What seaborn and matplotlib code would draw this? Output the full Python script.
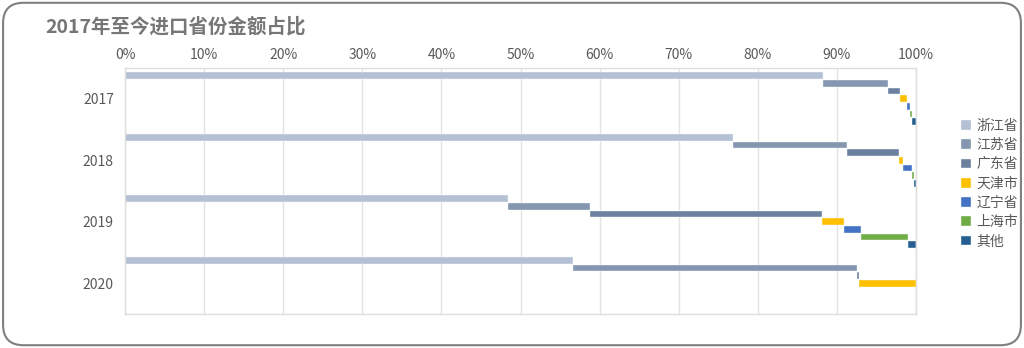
import matplotlib
matplotlib.use("Agg")
import matplotlib.pyplot as plt
import seaborn as sns
import pandas as pd
import numpy as np
from matplotlib.patches import FancyBboxPatch
from matplotlib.ticker import PercentFormatter

years = ["2017", "2018", "2019", "2020"]
provinces = ["浙江省", "江苏省", "广东省", "天津市", "辽宁省", "上海市", "其他"]
zhejiang = [88.2, 76.9, 48.4, 56.6]
jiangsu = [8.2, 14.4, 10.4, 35.9]
guangdong = [1.6, 6.6, 29.3, 0.3]
tianjin = [0.8, 0.4, 2.8, 7.2]
liaoning = [0.4, 1.2, 2.2, 0.0]
shanghai = [0.3, 0.3, 5.9, 0.0]
others = [0.5, 0.2, 1.0, 0.0]
colors = ["#b4c0d3", "#8496b0", "#6c809f", "#ffc000", "#4472c4", "#70ad47", "#255e91"]

series = [zhejiang, jiangsu, guangdong, tianjin, liaoning, shanghai, others]
rows = []
for yi, y in enumerate(years):
    start = 0.0
    for p, vals in zip(provinces, series):
        rows.append({"year": y, "province": p, "value": vals[yi], "start": start})
        start += vals[yi]
df = pd.DataFrame(rows)

sns.set_theme(style="white")
plt.rcParams["font.family"] = ["Noto Sans CJK SC", "DejaVu Sans"]

fig = plt.figure(figsize=(10.24, 3.48), dpi=100)
fig.patch.set_facecolor("white")
border = FancyBboxPatch((0.003, 0.008), 0.994, 0.984, boxstyle="round,pad=0,rounding_size=0.02",
                        transform=fig.transFigure, facecolor="none", edgecolor="#7f7f7f",
                        linewidth=1.5, mutation_aspect=1024/348, zorder=5)
fig.patches.append(border)

ax = fig.add_axes([125/1024, 1 - 314/348, (916 - 125)/1024, (314 - 68)/348])
sns.barplot(data=df, y="year", x="value", hue="province", order=years, hue_order=provinces,
            palette=colors, orient="h", width=0.87, gap=0.12, dodge=True, ax=ax,
            edgecolor="#f4f6f9", linewidth=0.3, saturation=1)

# shift each bar to start where the previous province ended
for container, p in zip(ax.containers, provinces):
    sub = df[df.province == p].set_index("year").loc[years]
    for patch, st in zip(container.patches, sub["start"].values):
        patch.set_x(st)

ax.set_xlim(0, 100)
ax.xaxis.set_major_formatter(PercentFormatter(100, decimals=0))
ax.set_xticks(np.arange(0, 101, 10))
ax.xaxis.tick_top()
ax.xaxis.set_label_position("top")
ax.set_xlabel("")
ax.set_ylabel("")
ax.grid(axis="x", color="#e3e3e3", linewidth=1)
ax.set_axisbelow(True)
for s in ax.spines.values():
    s.set_color("#dedede")
    s.set_linewidth(1)
ax.tick_params(axis="both", length=0, labelsize=10, colors="#595959", pad=8)
ax.tick_params(axis="x", pad=4)

handles, labels = ax.get_legend_handles_labels()
ax.legend(handles, labels, loc="center left", bbox_to_anchor=(1.05, 0.53), frameon=False,
          fontsize=10, labelcolor="#595959", handlelength=0.7, handleheight=0.7,
          handletextpad=0.4, labelspacing=0.38, borderaxespad=0)

fig.text(45/1024, 1 - 27/348, "2017年至今进口省份金额占比", fontsize=14, fontweight="bold",
         color="#767676", va="center", ha="left")

fig.savefig("out.png", dpi=100)
